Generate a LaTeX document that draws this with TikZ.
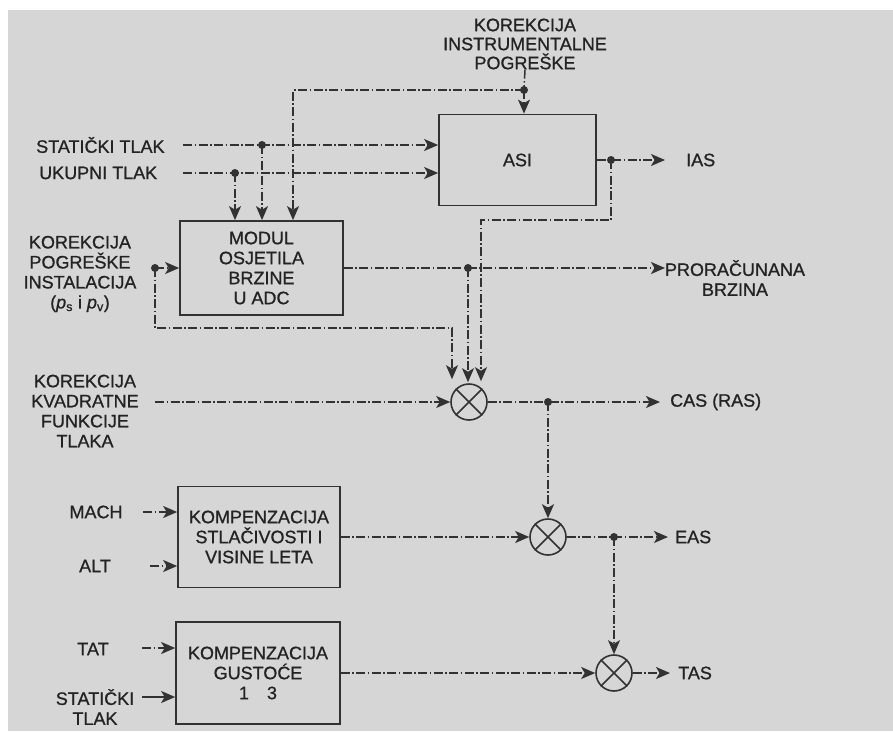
\documentclass[tikz,border=0pt]{standalone}
\usepackage{fontspec}
\setmainfont{Liberation Sans}[FakeBold=0.9]
\usetikzlibrary{arrows.meta,calc}
\definecolor{bg}{RGB}{214,214,214}
\definecolor{ink}{RGB}{50,50,50}
\definecolor{txt}{RGB}{35,35,35}
\newcommand\lblfont{\fontsize{18}{20}\selectfont}
\tikzset{
 blk/.style={draw=ink, line width=1.7pt, align=center, font=\lblfont, text=txt, inner sep=0pt},
 lbl/.style={font=\lblfont, text=txt, align=center, inner sep=0pt},
 dd/.style={draw=ink, line width=1.5pt, dash pattern=on 9pt off 2.5pt on 1.5pt off 2.5pt},
 sol/.style={draw=ink, line width=1.5pt},
 tip/.style={-{Stealth[length=14pt,width=12pt,inset=3.5pt]}},
 jdot/.style={circle, fill=ink, inner sep=0pt, minimum size=8pt},
 mult/.style={circle, draw=ink, line width=1.6pt, minimum size=36pt, inner sep=0pt},
 xline/.style={draw=ink, line width=1.6pt},
}
\begin{document}
\begin{tikzpicture}[x=1pt,y=-1pt]
\fill[white] (0,0) rectangle (893,731);
\fill[bg] (8,10) rectangle (893,731);
\useasboundingbox (0,0) rectangle (893,731);

% blocks
\node[blk, minimum width=157pt, minimum height=91pt] (asi) at (517.5,160) {ASI};
\node[blk, minimum width=163pt, minimum height=94pt] (modul) at (261.5,268) {MODUL\\OSJETILA\\BRZINE\\U ADC};
\node[blk, minimum width=162pt, minimum height=101pt] (komp) at (259,537) {KOMPENZACIJA\\STLAČIVOSTI I\\VISINE LETA};
\node[blk, minimum width=164pt, minimum height=102pt] (gust) at (258,673) {KOMPENZACIJA\\GUSTOĆE\\1\quad 3};

% multipliers
\node[mult] (m1) at (469,402) {};
\node[mult] (m2) at (548,537) {};
\node[mult] (m3) at (614,673) {};
\foreach \m in {m1,m2,m3}{
 \draw[xline] (\m.north west) -- (\m.south east) (\m.north east) -- (\m.south west);
}

% labels
\node[lbl] (korinst) at (525,44) {KOREKCIJA\\[-1pt]INSTRUMENTALNE\\[-1pt]POGREŠKE};
\node[lbl, anchor=west] (statlab) at (36,145) {STATIČKI TLAK};
\node[lbl, anchor=west] (ukuplab) at (39,173) {UKUPNI TLAK};
\node[lbl] (korpog) at (80,274) {KOREKCIJA\\POGREŠKE\\INSTALACIJA\\(\textit{p}\textsubscript{s} i \textit{p}\textsubscript{v})};
\node[lbl] (korkvad) at (85,411) {KOREKCIJA\\KVADRATNE\\FUNKCIJE\\TLAKA};
\node[lbl] (machlab) at (96,512) {MACH};
\node[lbl] (altlab) at (95,566) {ALT};
\node[lbl] (tatlab) at (93,649) {TAT};
\node[lbl] (stat2lab) at (95,707) {STATIČKI\\TLAK};
\node[lbl, anchor=west] (iaslab) at (686,160) {IAS};
\node[lbl] (prorlab) at (735,278) {PRORAČUNANA\\BRZINA};
\node[lbl, anchor=west] (caslab) at (670,402) {CAS (RAS)};
\node[lbl, anchor=west] (easlab) at (675,537) {EAS};
\node[lbl, anchor=west] (taslab) at (678,673) {TAS};

% coordinates
\coordinate (sIn) at (183,145);
\coordinate (uIn) at (183,173);
\coordinate (kTop) at (293,90);
\coordinate (iasEnd) at (665,160);
\coordinate (aCorner) at (611,220);
\coordinate (aCorner2) at (481,220);
\coordinate (pCorner) at (155,328);
\coordinate (pCorner2) at (452,328);
\coordinate (prEnd) at (665,268);
\coordinate (kvIn) at (155,402);
\coordinate (casEnd) at (660,402);
\coordinate (machIn) at (143,512);
\coordinate (altIn) at (150,566);
\coordinate (easEnd) at (668,537);
\coordinate (tatIn) at (142,648);
\coordinate (st2In) at (142,697);
\coordinate (tasEnd) at (670,673);

% junctions
\coordinate (jS) at (262,145);
\coordinate (jU) at (235,173);
\coordinate (jK) at (524,90);
\coordinate (jA) at (611,160);
\coordinate (jP) at (155,268);
\coordinate (jM) at (468,268);
\coordinate (jC) at (548,402);
\coordinate (jE) at (614,537);

% top inputs
\draw[dd,tip] (sIn) -- (sIn -| asi.west);
\draw[dd,tip] (uIn) -- (uIn -| asi.west);
\draw[dd,tip] (jS) -- (jS |- modul.north);
\draw[dd,tip] (jU) -- (jU |- modul.north);
\draw[dd] (korinst.south) -- (jK);
\draw[dd,tip] (jK) -- (jK |- asi.north);
\draw[dd,tip] (jK) -- (kTop) -- (kTop |- modul.north);

% ASI output
\draw[dd,tip] (asi.east |- jA) -- (iasEnd);
\draw[dd,tip] (jA) -- (aCorner) -- (aCorner2) -- ($(aCorner2 |- m1.north)+(0,-2)$);

% installation correction
\draw[dd,tip] (jP) -- (jP -| modul.west);
\draw[dd,tip] (jP) -- (pCorner) -- (pCorner2) -- ($(pCorner2 |- m1.north)+(0,-4)$);

% module output
\draw[dd,tip] (modul.east |- jM) -- (prEnd);
\draw[dd,tip] (jM) -- ($(jM |- m1.north)+(0,-1)$);

% square function correction
\draw[dd,tip] (kvIn) -- (m1.west);
\draw[dd,tip] (m1.east) -- (casEnd);
\draw[dd,tip] (jC) -- (m2.north);

% compressibility
\draw[dd,tip] (machIn) -- (machIn -| komp.west);
\draw[dd,tip] (altIn) -- (altIn -| komp.west);
\draw[dd,tip] (komp.east) -- (m2.west);
\draw[dd,tip] (m2.east) -- (easEnd);
\draw[dd,tip] (jE) -- (m3.north);

% density
\draw[dd,tip] (tatIn) -- (tatIn -| gust.west);
\draw[sol,tip] (st2In) -- (st2In -| gust.west);
\draw[dd,tip] (gust.east) -- (m3.west);
\draw[dd,tip] (m3.east) -- (tasEnd);

% dots
\foreach \j in {jS,jU,jK,jA,jP,jM,jC,jE}{
 \node[jdot] at (\j) {};
}
\end{tikzpicture}
\end{document}
